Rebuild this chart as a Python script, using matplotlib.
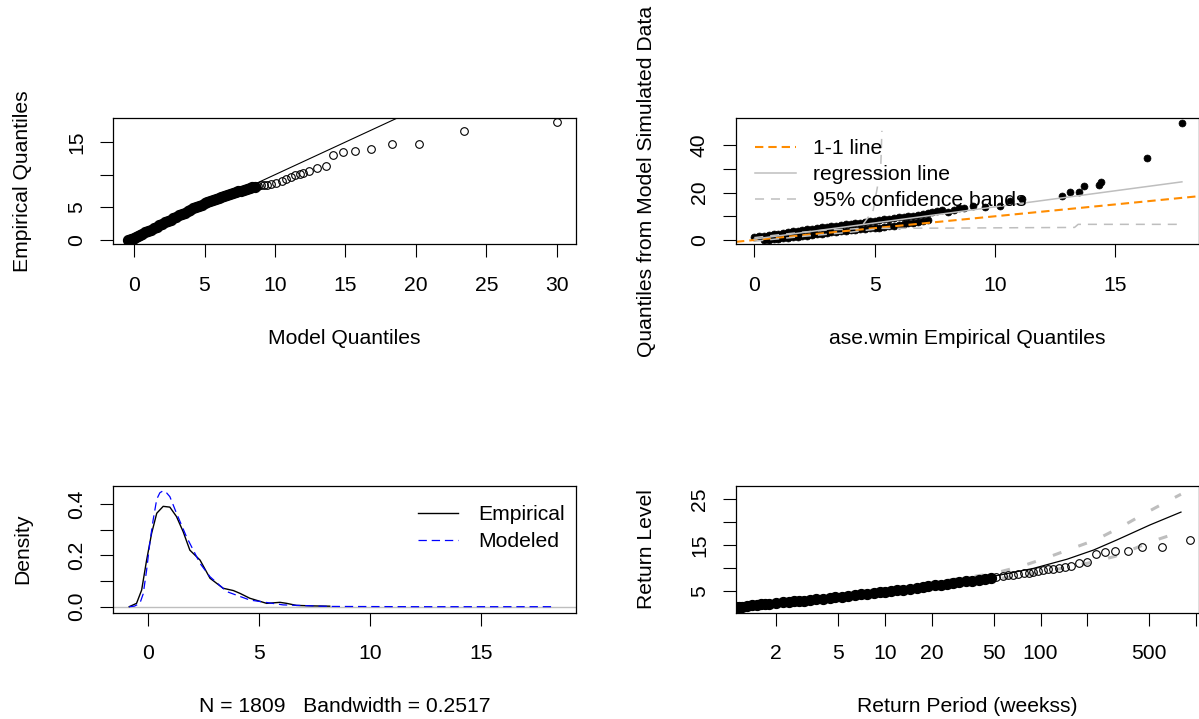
import numpy as np
import matplotlib
matplotlib.use("Agg")
import matplotlib.pyplot as plt
from matplotlib.ticker import FixedLocator, NullLocator

plt.rcParams['font.family'] = ['Liberation Sans', 'DejaVu Sans']
plt.rcParams['font.size'] = 15.2
plt.rcParams['lines.scale_dashes'] = False

# --- qq plot: model vs empirical quantiles
qq_model = [-0.4, -0.3, -0.2, -0.1, 0.0, 0.15, 0.3, 0.45, 0.6, 0.8, 1.0, 1.2, 1.4, 1.6, 1.8,
            2.0, 2.2, 2.4, 2.6, 2.8, 3.0, 3.2, 3.4, 3.6, 3.8, 4.0, 4.2, 4.4, 4.6, 4.8,
            5.0, 5.2, 5.4, 5.6, 5.8, 6.0, 6.2, 6.4, 6.6, 6.8, 7.0, 7.2, 7.4, 7.6, 7.8,
            8.0, 8.2, 8.4, 8.6, 8.8, 9.0, 9.2, 9.4, 9.7, 10.1, 10.5, 10.8, 11.1, 11.4,
            11.8, 12.0, 12.4, 13.0, 13.6, 14.1, 14.8, 15.7, 16.8, 18.3, 20.2, 23.4, 30.0]
qq_emp = [0.0, 0.05, 0.1, 0.2, 0.35, 0.5, 0.65, 0.8, 0.95, 1.2, 1.4, 1.6, 1.8, 2.0, 2.25,
          2.45, 2.7, 2.9, 3.1, 3.3, 3.6, 3.8, 4.0, 4.2, 4.4, 4.65, 4.85, 5.05, 5.25, 5.4,
          5.6, 5.8, 5.95, 6.15, 6.3, 6.5, 6.6, 6.75, 6.9, 7.05, 7.2, 7.3, 7.45, 7.55, 7.7,
          7.8, 7.95, 8.05, 8.15, 8.3, 8.35, 8.4, 8.45, 8.6, 8.7, 9.1, 9.4, 9.7, 9.9,
          10.1, 10.2, 10.5, 11.0, 11.4, 13.0, 13.4, 13.7, 13.9, 14.7, 14.7, 16.7, 18.0]

# --- qq plot: empirical vs simulated quantiles
sim_emp = [0.0, 0.2, 0.4, 0.6, 0.8, 1.0, 1.2, 1.4, 1.6, 1.8, 2.0, 2.2, 2.4, 2.6, 2.8,
           3.0, 3.2, 3.4, 3.6, 3.8, 4.0, 4.2, 4.4, 4.6, 4.8, 5.0, 5.2, 5.4, 5.6, 5.8,
           6.0, 6.2, 6.4, 6.6, 6.8, 7.0, 7.2, 7.4, 7.6, 7.8,
           0.4, 0.6, 0.8, 1.0, 1.2, 1.4, 1.6, 1.8, 2.0, 2.2, 2.4, 2.6, 2.8, 3.0, 3.2,
           3.4, 3.6, 3.8, 4.0, 4.2, 4.4, 4.6, 4.8, 5.0, 5.2, 5.4, 5.6, 5.8, 6.0, 6.2,
           6.4, 6.6, 6.8, 7.0, 7.2,
           8.06, 8.3, 8.5, 8.7, 9.1, 9.6, 10.2, 10.6, 11.1, 12.8, 13.1, 13.5, 13.7,
           14.3, 14.4, 16.3, 17.76]
sim_model = [1.2, 1.5, 1.8, 2.1, 2.4, 2.7, 3.0, 3.3, 3.6, 3.95, 4.3, 4.55, 4.8, 5.05, 5.3,
             5.55, 5.8, 6.05, 6.3, 6.55, 6.8, 7.05, 7.35, 7.6, 7.9, 8.15, 8.45, 8.7, 8.95, 9.2,
             9.5, 9.75, 10.0, 10.25, 10.5, 10.9, 11.3, 11.7, 12.1, 12.5,
             0.0, 0.2, 0.4, 0.6, 0.8, 1.0, 1.2, 1.4, 1.6, 1.85, 2.1, 2.35, 2.6, 2.9, 3.2,
             3.4, 3.6, 3.85, 4.1, 4.3, 4.5, 4.7, 4.9, 5.05, 5.2, 5.5, 5.8, 6.1, 6.4, 6.7,
             7.0, 7.3, 7.6, 8.0, 8.4,
             11.9, 12.6, 13.5, 13.3, 14.2, 13.7, 14.3, 16.5, 17.1, 18.5, 20.3, 20.3, 22.7,
             23.1, 24.5, 34.7, 49.3]
reg_x = [0.0, 17.76]
reg_y = [0.4, 24.5]
band_up_x = [0.0, 1.0, 2.0, 3.0, 4.0, 4.4, 4.94, 5.25, 5.3]
band_up_y = [1.0, 2.2, 3.3, 4.2, 4.6, 4.9, 12.6, 30.0, 46.0]
band_lo_x = [0.0, 2.0, 4.0, 5.3, 9.5, 13.3, 13.45, 17.76]
band_lo_y = [-0.5, 1.5, 3.3, 4.9, 5.1, 5.3, 6.6, 6.6]

# --- density: empirical kernel estimate and fitted model
dens_emp_x = [-0.83, -0.5, -0.27, -0.05, 0.18, 0.41, 0.7, 1.0, 1.3, 1.6, 1.9, 2.36, 2.81,
              3.4, 3.86, 4.16, 4.6, 5.36, 5.96, 6.26, 6.7, 7.5, 8.2]
dens_emp_y = [0.0, 0.013, 0.065, 0.18, 0.287, 0.365, 0.392, 0.389, 0.352, 0.293, 0.221,
              0.182, 0.111, 0.072, 0.063, 0.052, 0.033, 0.013, 0.017, 0.013, 0.005, 0.003, 0.002]
dens_mod_x = [-0.83, -0.6, -0.35, -0.2, -0.05, 0.1, 0.25, 0.41, 0.55, 0.7, 0.85, 1.0, 1.3,
              1.75, 2.36, 2.81, 3.56, 4.6, 6.1, 8.2, 12.0, 18.3]
dens_mod_y = [0.0, 0.002, 0.013, 0.05, 0.14, 0.25, 0.34, 0.42, 0.445, 0.453, 0.445, 0.43,
              0.365, 0.273, 0.169, 0.117, 0.059, 0.026, 0.007, 0.001, 0.0, 0.0]

# --- return level plot
rl_period = [1.05, 1.1, 1.15, 1.2, 1.3, 1.4, 1.5, 1.6, 1.7, 1.8, 2.0, 2.2, 2.4, 2.6, 2.8,
             3.0, 3.3, 3.6, 4.0, 4.4, 4.8, 5.3, 5.8, 6.4, 7.0, 7.7, 8.5, 9.3, 10, 11, 12,
             13, 14.5, 16, 17.5, 19, 21, 23, 25, 27.5, 30, 33, 36, 40, 44, 48, 52, 57,
             62, 67, 72, 78, 84, 90, 97, 104, 112, 120,
             131, 144, 157, 176, 199, 229, 261, 300, 364, 452, 607, 916]
rl_level = [1.3, 1.4, 1.45, 1.55, 1.7, 1.8, 1.95, 2.05, 2.1, 2.2, 2.3, 2.45, 2.6, 2.7, 2.8,
            2.85, 3.0, 3.15, 3.3, 3.45, 3.6, 3.75, 3.9, 4.05, 4.2, 4.35, 4.5, 4.65, 4.8,
            4.95, 5.1, 5.25, 5.45, 5.65, 5.85, 6.0, 6.2, 6.35, 6.55, 6.7, 6.9, 7.05, 7.25,
            7.45, 7.65, 7.85, 8.0, 8.2, 8.35, 8.5, 8.65, 8.8, 8.95, 9.1, 9.3, 9.5, 9.7, 9.8,
            9.9, 10.1, 10.5, 11.0, 11.4, 13.1, 13.4, 13.8, 13.8, 14.55, 14.5, 16.2]
fit_period = [1.05, 2, 5, 10, 20, 55, 90, 148, 219, 309, 506, 800]
fit_level = [1.2, 2.4, 3.7, 4.8, 6.1, 8.45, 9.9, 11.9, 13.9, 16.1, 19.4, 22.2]
ci_up_period = [1.05, 2, 5, 10, 20, 50, 76, 107, 155, 229, 331, 468, 676, 800]
ci_up_level = [1.5, 2.7, 4.1, 5.3, 6.8, 8.8, 10.4, 12.1, 14.1, 16.2, 19.0, 21.9, 24.8, 26.1]
ci_lo_period = [1.05, 2, 5, 10, 20, 50, 100, 200, 300, 531, 800]
ci_lo_level = [0.9, 2.1, 3.3, 4.3, 5.4, 7.5, 9.0, 11.0, 12.5, 15.9, 17.9]

W, H = 1199.0, 719.0
fig = plt.figure(figsize=(W / 100, H / 100), dpi=100)


def panel(left, top, right, bottom):
    return fig.add_axes([left / W, 1 - bottom / H, (right - left) / W, (bottom - top) / H])


def r_style(ax, xlab, ylab, xticks, xlabels, yticks, ylabels):
    for s in ax.spines.values():
        s.set_linewidth(0.9)
    ax.xaxis.set_major_locator(FixedLocator(xticks))
    ax.xaxis.set_minor_locator(NullLocator())
    ax.set_xticklabels(xlabels)
    ax.set_yticks(yticks)
    ax.set_yticklabels(ylabels)
    ax.tick_params(direction='out', length=9.5, width=0.8)
    ax.tick_params(axis='x', pad=13.5)
    ax.tick_params(axis='y', pad=10.0)
    for t in ax.get_yticklabels():
        t.set_rotation(90)
        t.set_va('center')
    h = ax.get_position().height * H
    w = ax.get_position().width * W
    ax.set_xlabel(xlab)
    ax.xaxis.label.set_va('center')
    ax.xaxis.set_label_coords(0.5, -94.0 / h)
    ax.set_ylabel(ylab)
    ax.yaxis.label.set_va('center')
    ax.yaxis.set_label_coords(-90.0 / w, 0.5)


def rings(ax, x, y, n_dense, **kw):
    # the crowded low end reads as a solid run of overlapping circles
    ax.plot(x[:n_dense], y[:n_dense], 'o', ms=7.3, color='black', mew=0.8, **kw)
    ax.plot(x[n_dense:], y[n_dense:], 'o', ms=5.5, mfc='none', mec='black', mew=0.8, **kw)


ax1 = panel(113, 118, 576, 244)
ax2 = panel(736, 118, 1199, 244)
ax3 = panel(113, 486, 576, 612.5)
ax4 = panel(736, 486, 1199, 612.5)

# model vs empirical quantiles
rings(ax1, qq_model, qq_emp, 49)
ax1.axline((0, 0), slope=1, color='black', lw=0.8)
ax1.set_xlim(-1.49, 31.35)
ax1.set_ylim(-0.61, 18.68)
r_style(ax1, 'Model Quantiles', 'Empirical Quantiles',
        [0, 5, 10, 15, 20, 25, 30], ['0', '5', '10', '15', '20', '25', '30'],
        [0, 5, 10, 15], ['0', '5', '', '15'])

# empirical vs simulated quantiles
ax2.plot(sim_emp, sim_model, 'o', ms=5.0, color='black', mec='black', mew=0.5)
ax2.axline((0, 0), slope=1, color='#FF8C00', lw=1.5, ls=(0, (6, 3.6)), label='1-1 line')
ax2.plot(reg_x, reg_y, color='#BEBEBE', lw=1.1, label='regression line')
ax2.plot(band_up_x, band_up_y, color='#BEBEBE', lw=1.1, ls=(0, (6.5, 5)),
         label='95% confidence bands')
ax2.plot(band_lo_x, band_lo_y, color='#BEBEBE', lw=1.1, ls=(0, (6.5, 5)))
ax2.set_xlim(-0.76, 18.47)
ax2.set_ylim(-1.68, 51.4)
r_style(ax2, 'ase.wmin Empirical Quantiles', 'Quantiles from Model Simulated Data',
        [0, 5, 10, 15], ['0', '5', '10', '15'],
        [0, 10, 20, 30, 40], ['0', '', '20', '', '40'])
ax2.legend(loc='upper left', bbox_to_anchor=(755 / W, 1 - 139 / H),
           bbox_transform=fig.transFigure, frameon=False, borderpad=0, borderaxespad=0,
           handlelength=1.95, handletextpad=0.8, labelspacing=0.34)

# density comparison
ax3.axhline(0, color='#BEBEBE', lw=1.0)
ax3.plot(dens_emp_x, dens_emp_y, color='black', lw=1.0, label='Empirical')
ax3.plot(dens_mod_x, dens_mod_y, color='blue', lw=0.9, ls=(0, (6, 3.5)), label='Modeled')
ax3.set_xlim(-1.56, 19.29)
ax3.set_ylim(-0.0227, 0.4715)
r_style(ax3, 'N = 1809   Bandwidth = 0.2517', 'Density',
        [0, 5, 10, 15], ['0', '5', '10', '15'],
        [0.0, 0.1, 0.2, 0.3, 0.4], ['0.0', '', '0.2', '', '0.4'])
ax3.legend(loc='upper left', bbox_to_anchor=(418 / W, 1 - 505.5 / H),
           bbox_transform=fig.transFigure, frameon=False, borderpad=0, borderaxespad=0,
           handlelength=1.9, handletextpad=0.95, labelspacing=0.37)

# return level plot
ax4.set_xscale('log')
ax4.plot(ci_up_period, ci_up_level, color='#BEBEBE', lw=2.2, ls=(0, (6.5, 13)), zorder=1)
ax4.plot(ci_lo_period, ci_lo_level, color='#BEBEBE', lw=2.2, ls=(0, (6.5, 13)), zorder=1)
rings(ax4, rl_period, rl_level, 46, zorder=2)
ax4.plot(fit_period, fit_level, color='black', lw=0.9, zorder=3)
ax4.set_xlim(10 ** 0.0418, 10 ** 3.019)
ax4.set_ylim(0.26, 27.9)
r_style(ax4, 'Return Period (weekss)', 'Return Level',
        [2, 5, 10, 20, 50, 100, 200, 500, 1000],
        ['2', '5', '10', '20', '50', '100', '', '500', ''],
        [5, 10, 15, 20, 25], ['5', '', '15', '', '25'])

fig.savefig('out.png', dpi=100)
